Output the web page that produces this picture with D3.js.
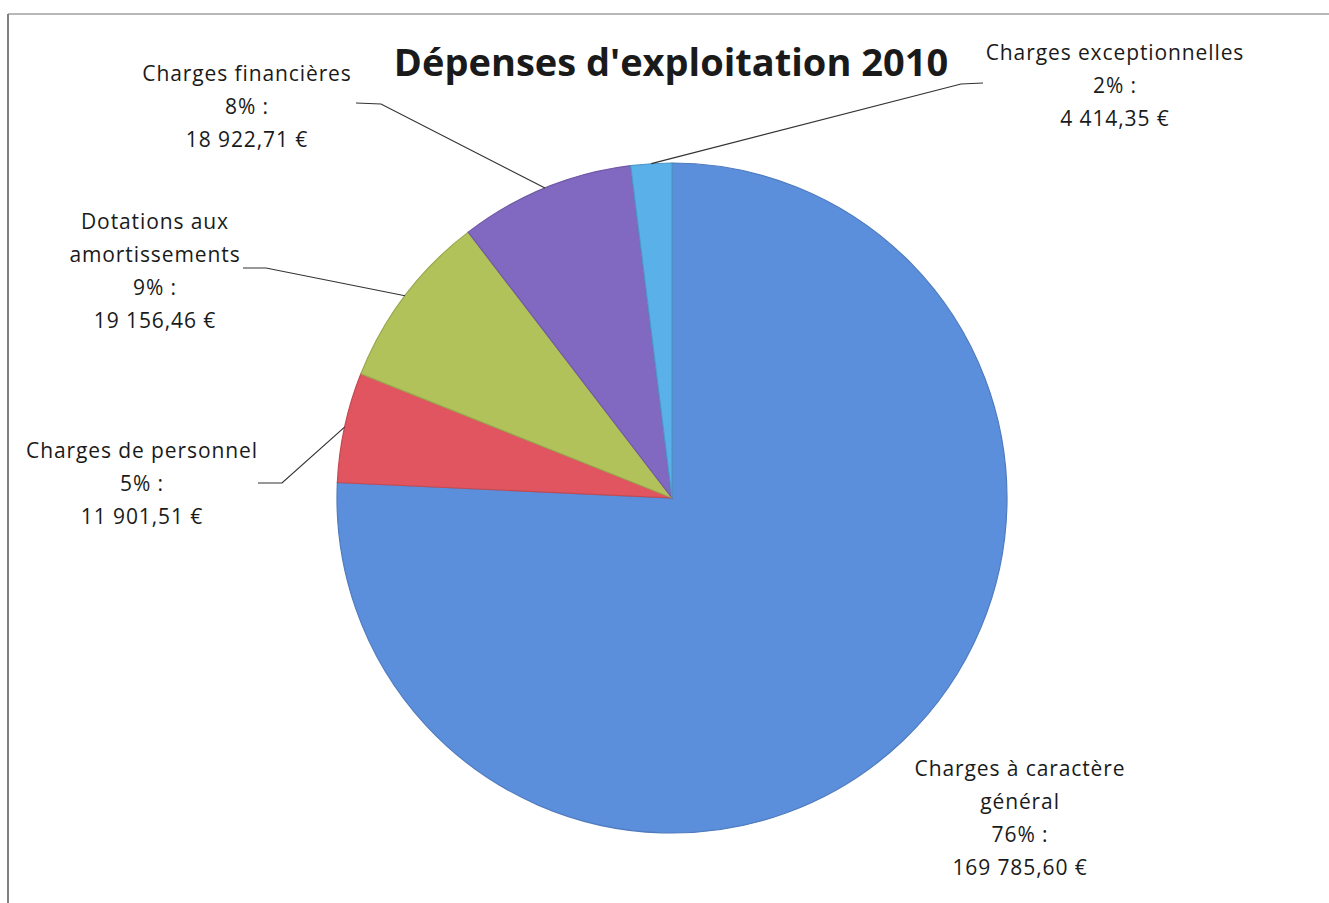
<!DOCTYPE html>
<html><head><meta charset="utf-8">
<script src="https://cdn.jsdelivr.net/npm/d3@7/dist/d3.min.js"></script>
<style>
html,body{margin:0;padding:0;background:#fff;}
svg{display:block;}
</style></head>
<body>
<svg id="c" width="1329" height="903"></svg>
<script>
// ---- data ----
const categories = ["Charges à caractère général", "Charges de personnel", "Dotations aux amortissements", "Charges financières", "Charges exceptionnelles"];
const values = [169785.60, 11901.51, 19156.46, 18922.71, 4414.35];
const labelLines = [
  ["Charges à caractère", "général"],
  ["Charges de personnel"],
  ["Dotations aux", "amortissements"],
  ["Charges financières"],
  ["Charges exceptionnelles"]
];
const colors = ["#5b8edb", "#e0555f", "#b2c25a", "#8168c0", "#5ab0e8"];
const title = "Dépenses d'exploitation 2010";

// ---- layout ----
const W = 1329, H = 903;
const cx = 672, cy = 498, R = 335;
// label block centre x, first-line centre y, leader start (label side) and elbow
const labelLayout = [
  {x: 1020, y: 769, leader: null},
  {x: 142, y: 451, leader: [[258, 483], [282, 483]]},
  {x: 155, y: 222, leader: [[243, 268], [266, 268]]},
  {x: 247, y: 74, leader: [[356, 103], [381, 104]]},
  {x: 1115, y: 53, leader: [[983, 83], [961, 84]]}
];
const lineH = 33;

const svg = d3.select("#c");
svg.append("rect").attr("width", W).attr("height", H).attr("fill", "#fff");
// frame
svg.append("line").attr("x1", 8).attr("x2", W).attr("y1", 14).attr("y2", 14).attr("stroke", "#a0a0a0").attr("stroke-width", 1.5);
svg.append("line").attr("x1", 8).attr("x2", 8).attr("y1", 14).attr("y2", H).attr("stroke", "#808080").attr("stroke-width", 2);

const total = d3.sum(values);
const loc = d3.formatLocale({decimal: ",", thousands: "\u00a0", grouping: [3], currency: ["", "\u00a0€"]});
const fmtVal = loc.format(",.2f");

const pie = d3.pie().sort(null).value(d => d).startAngle(0).endAngle(2 * Math.PI);
const arcs = pie(values);
const arc = d3.arc().innerRadius(0).outerRadius(R);
const edgeArc = d3.arc().innerRadius(R).outerRadius(R);

const g = svg.append("g").attr("transform", `translate(${cx},${cy})`);
g.selectAll("path.slice").data(arcs).join("path")
  .attr("class", "slice")
  .attr("d", arc)
  .attr("fill", (d, i) => colors[i])
  .attr("stroke", (d, i) => d3.color(colors[i]).darker(0.4))
  .attr("stroke-width", 1.2);

// leader lines
arcs.forEach((d, i) => {
  const L = labelLayout[i];
  if (!L.leader) return;
  const c = edgeArc.centroid(d);
  const pts = [L.leader[0], L.leader[1], [cx + c[0], cy + c[1]]];
  svg.append("path")
    .attr("d", d3.line()(pts))
    .attr("fill", "none").attr("stroke", "#333").attr("stroke-width", 1.2);
});

// labels
arcs.forEach((d, i) => {
  const L = labelLayout[i];
  const pct = Math.round(values[i] / total * 100) + "%\u00a0:";
  const lines = labelLines[i].concat([pct, fmtVal(values[i]) + "\u00a0€"]);
  const t = svg.append("text")
    .attr("text-anchor", "middle")
    .attr("font-family", "'Open Sans', sans-serif")
    .attr("font-size", 21)
    .attr("letter-spacing", 0.9)
    .attr("fill", "#1a1a1a");
  lines.forEach((s, k) => {
    t.append("tspan").attr("x", L.x).attr("y", L.y + k * lineH).attr("dy", "0.35em").text(s);
  });
});

// title
svg.append("text")
  .attr("x", 671).attr("y", 63).attr("dy", "0.35em")
  .attr("text-anchor", "middle")
  .attr("font-family", "'Open Sans', sans-serif")
  .attr("font-weight", "bold")
  .attr("font-size", 38)
  .attr("fill", "#1a1a1a")
  .text(title);
</script>
</body></html>
